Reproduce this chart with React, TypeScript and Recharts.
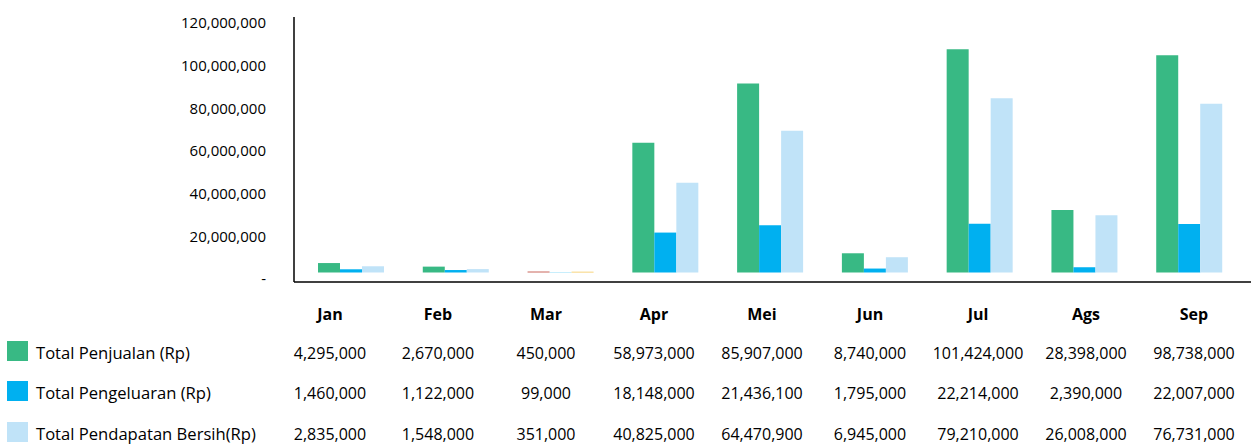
import React from 'react'
import { BarChart, Bar, XAxis, YAxis, Cell } from 'recharts'

const months = ['Jan', 'Feb', 'Mar', 'Apr', 'Mei', 'Jun', 'Jul', 'Ags', 'Sep']
const penjualan = [4295000, 2670000, 450000, 58973000, 85907000, 8740000, 101424000, 28398000, 98738000]
const pengeluaran = [1460000, 1122000, 99000, 18148000, 21436100, 1795000, 22214000, 2390000, 22007000]
const pendapatan = [2835000, 1548000, 351000, 40825000, 64470900, 6945000, 79210000, 26008000, 76731000]
const yTicks = [0, 20000000, 40000000, 60000000, 80000000, 100000000, 120000000]

const seriesNames = ['Total Penjualan (Rp)', 'Total Pengeluaran (Rp)', 'Total Pendapatan Bersih(Rp)']
const seriesColors = ['#38B984', '#00B0F0', '#C0E3F8']
// Mar is drawn in other colours in the original
const marColors = ['#C8645A', '#00B0F0', '#F5C656']

const rows = months.map((m, i) => ({
  month: m,
  penjualan: penjualan[i],
  pengeluaran: pengeluaran[i],
  pendapatan: pendapatan[i]
}))

const fmt = (v: number) => v.toLocaleString('en-US')
const font = '"Open Sans", Lato, sans-serif'

export default function App() {
  const keys = ['penjualan', 'pengeluaran', 'pendapatan']
  const tableValues = [penjualan, pengeluaran, pendapatan]
  const rowY = [353, 393, 434]

  return (
    <div style={{ position: 'absolute', left: 0, top: 0, width: 1251, height: 445, background: '#fff', fontFamily: font, color: '#000' }}>
      <BarChart
        width={1251}
        height={300}
        data={rows}
        margin={{ top: 17, right: 0, bottom: 17, left: 0 }}
        barCategoryGap={19}
        barGap={0}
      >
        <XAxis
          dataKey="month"
          xAxisId="x"
          height={1}
          tick={false}
          tickLine={false}
          axisLine={{ stroke: '#404040', strokeWidth: 2 }}
          padding={{ left: 5, right: 9 }}
        />
        <YAxis
          yAxisId="left"
          width={294}
          domain={[-1406250, 122812500]}
          ticks={yTicks}
          allowDataOverflow
          tickLine={false}
          tickSize={0}
          tickMargin={28}
          axisLine={{ stroke: '#000', strokeWidth: 1.5 }}
          tick={{ fill: '#000', fontSize: 15, fontFamily: font }}
          tickFormatter={(v: number) => (v === 0 ? '-' : fmt(v))}
        />
        <YAxis yAxisId="bars" hide width={0} domain={[-4318000, 116136000]} allowDataOverflow />
        {keys.map((k, s) => (
          <Bar key={k} dataKey={k} xAxisId="x" yAxisId="bars" fill={seriesColors[s]} isAnimationActive={false}>
            {rows.map((r) => (
              <Cell key={r.month} fill={r.month === 'Mar' ? marColors[s] : seriesColors[s]} />
            ))}
          </Bar>
        ))}
      </BarChart>

      {/* data table under the chart */}
      {months.map((m, i) => (
        <div
          key={m}
          style={{ position: 'absolute', left: 276 + i * 108, top: 304, width: 108, textAlign: 'center', fontSize: 16, fontWeight: 700, lineHeight: '20px' }}
        >
          {m}
        </div>
      ))}
      {seriesNames.map((name, s) => (
        <React.Fragment key={name}>
          <div style={{ position: 'absolute', left: 7, top: rowY[s] - 12, width: 21, height: 20, background: seriesColors[s] }} />
          <div style={{ position: 'absolute', left: 36, top: rowY[s] - 10, fontSize: 16.6, lineHeight: '20px', whiteSpace: 'nowrap' }}>
            {name}
          </div>
          {tableValues[s].map((v, i) => (
            <div
              key={i}
              style={{ position: 'absolute', left: 276 + i * 108, top: rowY[s] - 10, width: 108, textAlign: 'center', fontSize: 16, lineHeight: '20px' }}
            >
              {fmt(v)}
            </div>
          ))}
        </React.Fragment>
      ))}
    </div>
  )
}
